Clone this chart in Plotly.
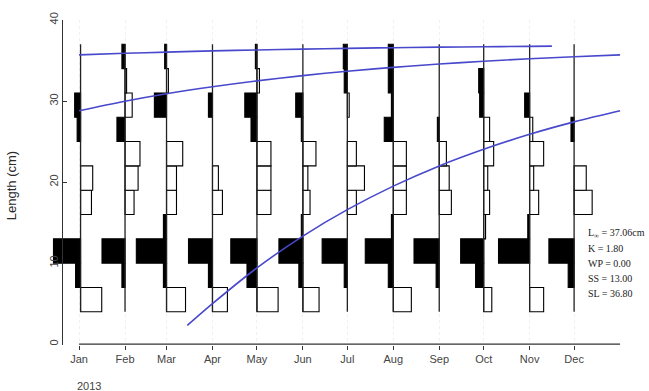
import pandas as pd
import plotly.graph_objects as go

# ---- data -------------------------------------------------------------
sample_dates = ["2013-01-02", "2013-02-01", "2013-03-01", "2013-04-01",
                "2013-05-01", "2013-06-01", "2013-07-01", "2013-08-01",
                "2013-09-01", "2013-10-01", "2013-11-01", "2013-12-01"]

# length classes (cm): lower bounds and mid-lengths, 3 cm wide
class_lower = [4, 7, 10, 13, 16, 19, 22, 25, 28, 31, 34]
class_mid = [5.5, 8.5, 11.5, 14.5, 17.5, 20.5, 23.5, 26.5, 29.5, 32.5, 35.5]
class_width = 3

# restructured frequencies per sample (positive = peak, negative = trough)
rcounts_jan = [-0.68, 0.16, 0.87, 0.00, -0.35, -0.39, 0.00, 0.11, 0.19, 0.00, 0.00]
rcounts_feb = [0.00, 0.10, 0.74, 0.00, -0.29, -0.42, -0.48, 0.26, -0.23, -0.05, 0.10]
rcounts_mar = [-0.61, 0.10, 0.97, 0.10, -0.32, -0.32, -0.52, 0.00, 0.39, -0.06, 0.06]
rcounts_apr = [-0.48, 0.13, 0.77, 0.00, -0.32, -0.19, 0.00, 0.00, 0.13, 0.00, 0.00]
rcounts_may = [-0.68, 0.32, 0.84, 0.00, -0.45, -0.45, -0.45, 0.19, 0.39, -0.08, 0.05]
rcounts_jun = [-0.52, 0.13, 0.77, 0.05, -0.23, -0.16, -0.42, 0.05, 0.23, 0.00, 0.00]
rcounts_jul = [0.00, 0.10, 0.81, 0.00, -0.29, -0.55, -0.29, 0.00, -0.06, 0.10, 0.13]
rcounts_aug = [-0.58, 0.16, 0.90, 0.06, -0.42, -0.42, -0.42, 0.29, 0.06, 0.16, 0.16]
rcounts_sep = [0.00, 0.10, 0.81, 0.00, -0.39, -0.32, -0.23, 0.06, 0.00, 0.00, 0.00]
rcounts_oct = [-0.26, 0.26, 0.74, -0.06, -0.19, -0.13, -0.32, -0.19, 0.13, 0.16, 0.00]
rcounts_nov = [-0.45, 0.00, 1.00, 0.06, -0.29, -0.13, -0.45, -0.10, 0.16, 0.00, 0.00]
rcounts_dec = [0.00, 0.19, 0.81, 0.00, -0.58, -0.39, 0.00, 0.10, 0.00, 0.00, 0.00]

# growth curves (cohort lengths in cm)
cohort1_dates = ["2013-01-01", "2013-02-01", "2013-03-01", "2013-04-01", "2013-05-01",
                 "2013-06-01", "2013-07-01", "2013-08-01", "2013-09-01", "2013-10-01",
                 "2013-11-01", "2013-11-16"]
cohort1_len = [35.70, 35.89, 36.04, 36.19, 36.30, 36.41, 36.50, 36.58, 36.65, 36.70,
               36.75, 36.78]
cohort2_dates = ["2013-01-01", "2013-02-01", "2013-03-01", "2013-04-01", "2013-05-01",
                 "2013-06-01", "2013-07-01", "2013-08-01", "2013-09-01", "2013-10-01",
                 "2013-11-01", "2013-12-01", "2014-01-01"]
cohort2_len = [28.80, 29.97, 30.89, 31.76, 32.49, 33.14, 33.68, 34.16, 34.57, 34.91,
               35.21, 35.47, 35.70]
cohort3_dates = ["2013-03-15", "2013-04-01", "2013-05-01", "2013-06-01", "2013-07-01",
                 "2013-08-01", "2013-09-01", "2013-10-01", "2013-11-01", "2013-12-01",
                 "2014-01-01"]
cohort3_len = [2.31, 5.00, 9.41, 13.34, 16.60, 19.50, 22.00, 24.05, 25.90, 27.43, 28.80]

month_ticks = ["2013-01-01", "2013-02-01", "2013-03-01", "2013-04-01", "2013-05-01",
               "2013-06-01", "2013-07-01", "2013-08-01", "2013-09-01", "2013-10-01",
               "2013-11-01", "2013-12-01"]
month_labels = ["Jan", "Feb", "Mar", "Apr", "May", "Jun", "Jul", "Aug", "Sep", "Oct",
                "Nov", "Dec"]
axis_end = "2014-01-01"
y_ticks = [0, 10, 20, 30, 40]

param_lines = ["L<sub>∞</sub> = 37.06cm", "K = 1.80", "WP = 0.00", "SS = 13.00", "SL = 36.80"]

# ---- drawing ----------------------------------------------------------
HIST_SPAN_DAYS = 21          # width of a score of 1.0, in days
CURVE_COLOR = "#4848cc"
AXIS_COLOR = "#333333"

rcounts = [rcounts_jan, rcounts_feb, rcounts_mar, rcounts_apr, rcounts_may, rcounts_jun,
           rcounts_jul, rcounts_aug, rcounts_sep, rcounts_oct, rcounts_nov, rcounts_dec]
dates = pd.to_datetime(sample_dates)
ms = pd.Timedelta(milliseconds=1)

peak = dict(y=[], base=[], x=[])
trough = dict(y=[], base=[], x=[])
for d, row in zip(dates, rcounts):
    for mid, s in zip(class_mid, row):
        if s == 0:
            continue
        span = pd.Timedelta(days=abs(s) * HIST_SPAN_DAYS)
        if s > 0:
            peak["y"].append(mid)
            peak["base"].append(d - span)
            peak["x"].append(span / ms)
        else:
            trough["y"].append(mid)
            trough["base"].append(d)
            trough["x"].append(span / ms)

fig = go.Figure()

fig.add_trace(go.Bar(orientation="h", y=trough["y"], x=trough["x"], base=trough["base"],
                     width=class_width, hoverinfo="skip",
                     marker=dict(color="white", line=dict(color="black", width=1.1))))
fig.add_trace(go.Bar(orientation="h", y=peak["y"], x=peak["x"], base=peak["base"],
                     width=class_width, hoverinfo="skip",
                     marker=dict(color="black", line=dict(color="black", width=1.1))))

# sample baselines
bx, by = [], []
bottom = class_lower[0]
top = class_lower[-1] + class_width
for d in dates:
    bx += [d, d, None]
    by += [bottom, top, None]
fig.add_trace(go.Scatter(x=bx, y=by, mode="lines", hoverinfo="skip",
                         line=dict(color="#222222", width=1.3)))

for cx, cy in [(cohort1_dates, cohort1_len), (cohort2_dates, cohort2_len),
               (cohort3_dates, cohort3_len)]:
    fig.add_trace(go.Scatter(x=cx, y=cy, mode="lines", hoverinfo="skip",
                             line=dict(color=CURVE_COLOR, width=1.6, shape="spline")))

# x axis line spanning one year
fig.add_shape(type="line", xref="x", yref="y", x0=month_ticks[0], x1=axis_end,
              y0=0, y1=0, line=dict(color=AXIS_COLOR, width=1.2), layer="above")

# parameter block
for i, txt in enumerate(param_lines):
    fig.add_annotation(x="2013-12-09", y=13.7 - 1.87 * i, xref="x", yref="y",
                       text=txt, showarrow=False, xanchor="left", yanchor="middle",
                       font=dict(family="Liberation Serif", size=10, color="#222222"))

fig.add_annotation(x="2013-01-08", y=-0.125, xref="x", yref="paper", text="2013",
                   showarrow=False, xanchor="center", yanchor="middle",
                   font=dict(family="Liberation Sans", size=11, color="#444444"))
fig.add_annotation(x=-0.058, y=0.49, xref="paper", yref="paper", text="Length (cm)",
                   textangle=-90, showarrow=False, xanchor="center", yanchor="middle",
                   font=dict(family="Liberation Sans", size=13, color="#2a2a2a"))

fig.update_layout(
    width=649, height=391,
    margin=dict(l=45, r=25, t=18, b=46),
    plot_bgcolor="white", paper_bgcolor="white",
    barmode="overlay", showlegend=False,
    xaxis=dict(type="date", range=["2012-12-09", "2014-01-03 16:00"],
               tickvals=month_ticks, ticktext=month_labels,
               ticks="outside", ticklen=4, tickcolor=AXIS_COLOR,
               showline=False, zeroline=False,
               showgrid=True, gridcolor="#f0f0f0", griddash="dot", gridwidth=1,
               tickfont=dict(family="Liberation Sans", size=11, color="#444444")),
    yaxis=dict(range=[-0.1, 40], tickvals=y_ticks, ticks="inside", ticklen=4,
               tickcolor=AXIS_COLOR, showline=True, linecolor=AXIS_COLOR, linewidth=1.2,
               anchor="free", position=0.0294, tickangle=-90,
               showgrid=False, zeroline=False,
               tickfont=dict(family="Liberation Sans", size=11, color="#444444")),
)

fig.write_html("out.html")
